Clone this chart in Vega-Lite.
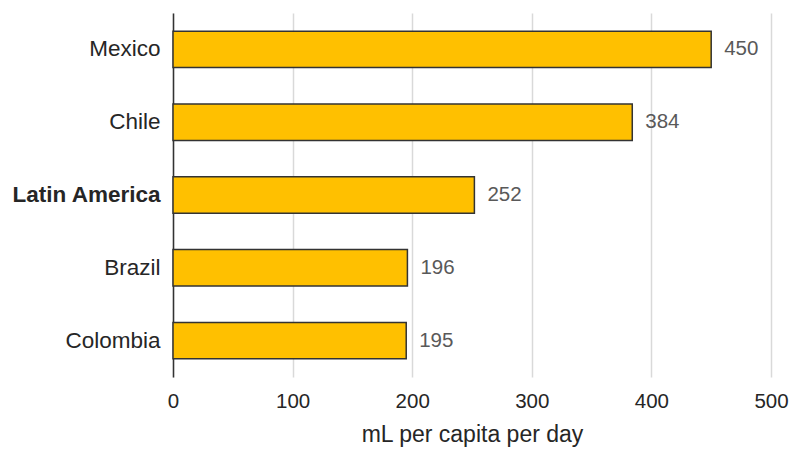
{
  "$schema": "https://vega.github.io/schema/vega-lite/v6.json",
  "width": 598,
  "height": 364,
  "autosize": {"type": "none"},
  "padding": {"left": 173, "top": 13, "right": 29, "bottom": 85},
  "background": "white",
  "config": {"view": {"stroke": null}, "font": "Liberation Sans"},
  "data": {"values": [
    {"country": "Mexico", "value": 450},
    {"country": "Chile", "value": 384},
    {"country": "Latin America", "value": 252},
    {"country": "Brazil", "value": 196},
    {"country": "Colombia", "value": 195}
  ]},
  "encoding": {
    "y": {
      "field": "country", "type": "nominal", "sort": null,
      "scale": {"paddingInner": 0.5, "paddingOuter": 0.25},
      "axis": {
        "title": null, "ticks": false, "grid": false,
        "domainColor": "#333333", "domainWidth": 1.5,
        "labelFontSize": 22.5, "labelColor": "#262626", "labelPadding": 13,
        "labelFontWeight": {"condition": {"test": "datum.value == 'Latin America'", "value": "bold"}, "value": "normal"}
      }
    },
    "x": {
      "field": "value", "type": "quantitative",
      "scale": {"domain": [0, 500]},
      "axis": {
        "title": "mL per capita per day", "titleFontSize": 23, "titleFontWeight": "normal",
        "titleColor": "#262626", "titlePadding": 12,
        "values": [0, 100, 200, 300, 400, 500],
        "ticks": false, "domain": false, "labelFlush": false,
        "gridColor": "#d9d9d9", "gridWidth": 1.5,
        "labelFontSize": 20.5, "labelColor": "#262626", "labelPadding": 14
      }
    }
  },
  "layer": [
    {"mark": {"type": "bar", "color": "#FFC000", "stroke": "#333333", "strokeWidth": 1.5}},
    {"mark": {"type": "text", "align": "left", "dx": 13, "fontSize": 20.5, "color": "#595959"},
     "encoding": {"text": {"field": "value", "type": "quantitative"}}}
  ]
}
